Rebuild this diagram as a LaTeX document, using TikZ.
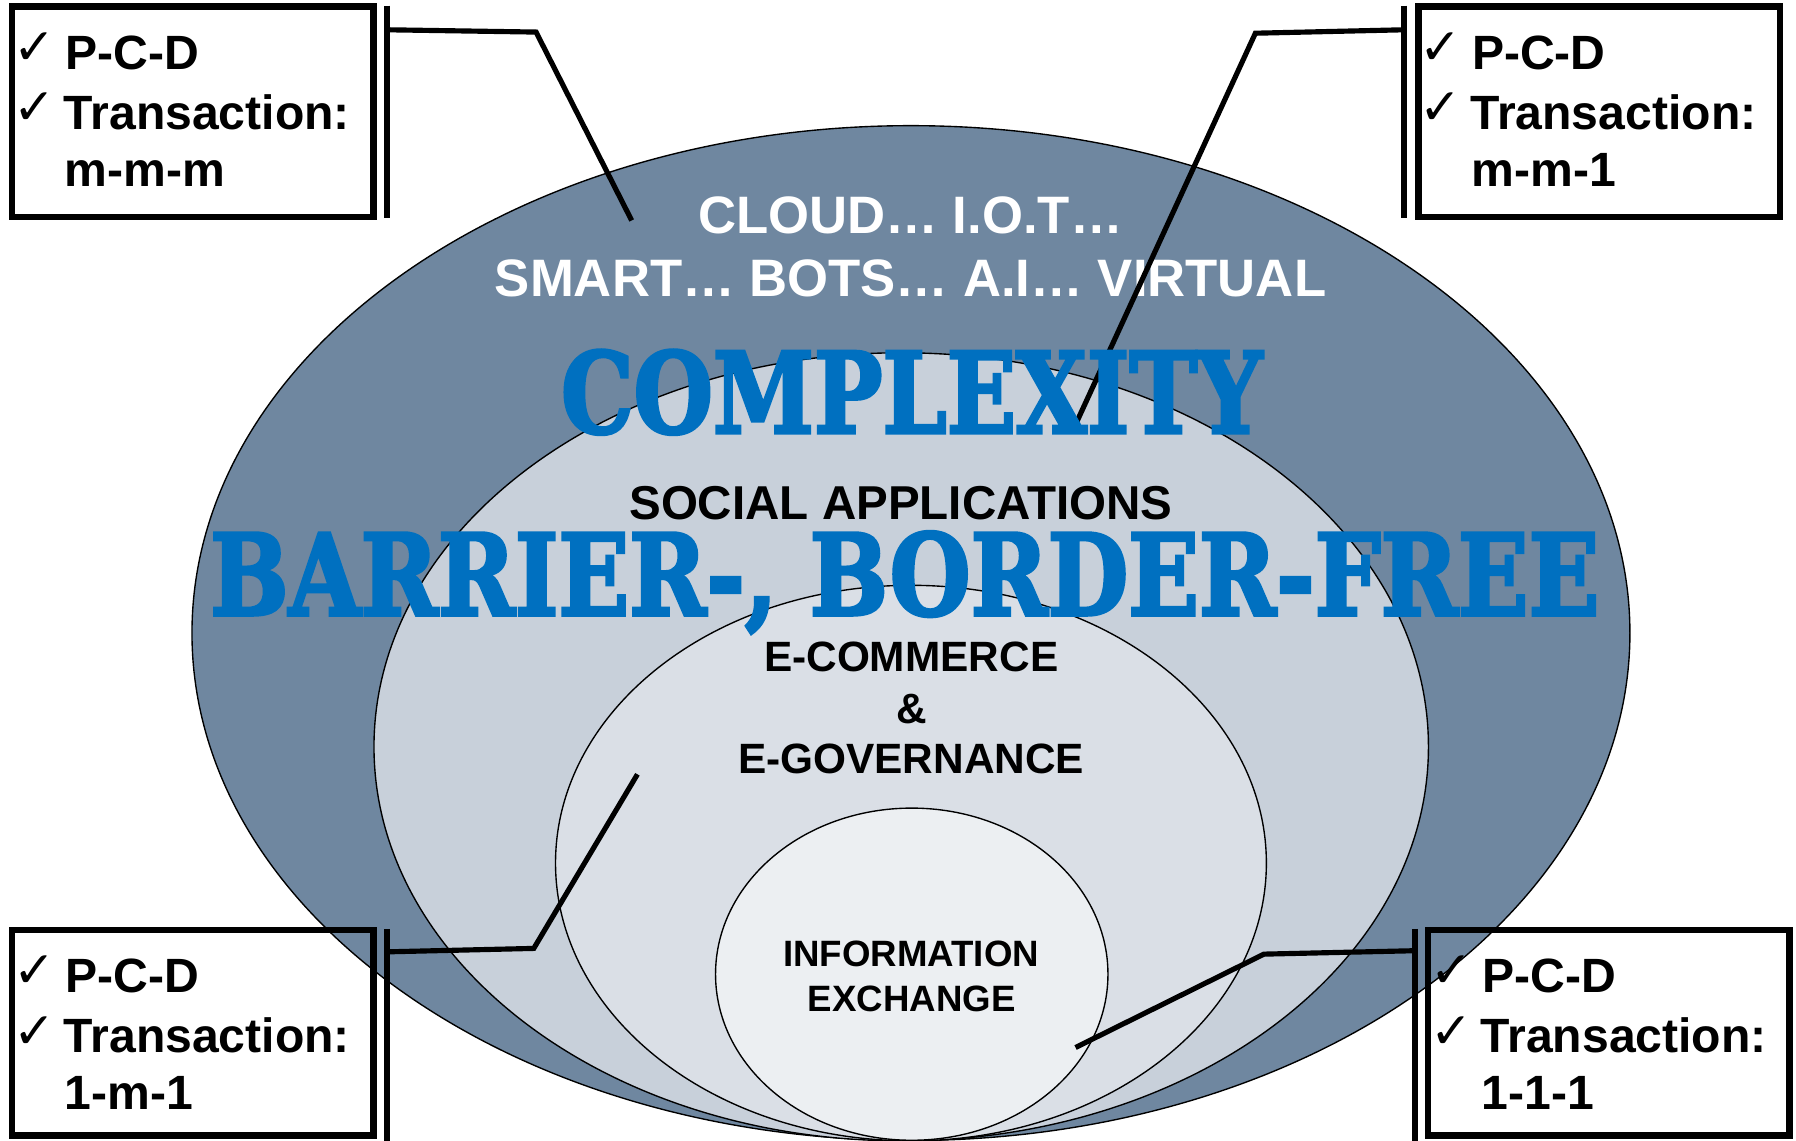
\documentclass[tikz,border=0pt]{standalone}
\usepackage{fontspec}
\setmainfont{Liberation Sans}
\newfontfamily\chkfont{DejaVu Sans}
\newfontfamily\stencilfont{DejaVu Serif Bold}[FakeBold=3]
\usetikzlibrary{shapes.geometric}
\definecolor{ringA}{RGB}{111,135,160}
\definecolor{ringB}{RGB}{200,208,218}
\definecolor{ringC}{RGB}{218,223,230}
\definecolor{ringD}{RGB}{236,239,242}
\definecolor{bigblue}{RGB}{0,112,192}
\begin{document}
\begin{tikzpicture}[x=1pt,y=-1pt,
  ring/.style={ellipse, draw=black, line width=1.2pt, inner sep=0pt},
  infobox/.style={draw=black, line width=5.5pt, inner sep=0pt, minimum width=315.5pt},
  boxtext/.style={anchor=base west, inner sep=0pt, font=\fontsize{42}{48}\selectfont\bfseries},
  tick/.style={anchor=base west, inner sep=0pt, font=\chkfont\fontsize{44}{48}\selectfont},
  barline/.style={line width=5pt},
  leader/.style={line width=4.5pt, line join=miter},
  wtext/.style={anchor=base, inner sep=0pt, text=white, font=\fontsize{46}{55}\selectfont\bfseries},
  btext/.style={anchor=base, inner sep=0pt, text=black, font=\fontsize{37}{44}\selectfont\bfseries},
  bigtext/.style={anchor=base, inner sep=0pt, text=bigblue, font=\stencilfont}
]
\useasboundingbox (0,0) rectangle (1568,996);

% rings
\node[ring, fill=ringA, minimum width=1255.4pt, minimum height=886pt] (ring1) at (795.3,552.7) {};
\node[ring, fill=ringB, minimum width=920.6pt, minimum height=688pt] (ring2) at (786.8,652) {};
\node[ring, fill=ringC, minimum width=620.6pt, minimum height=485pt] (ring3) at (795.3,753.5) {};
\node[ring, fill=ringD, minimum width=342.6pt, minimum height=290pt] (ring4) at (796,850.5) {};

% white text on outer ring
\node[wtext] (cloud) at (795,203.5) {CLOUD… I.O.T…};
\node[wtext] (smart) at (795,259) {SMART… BOTS… A.I… VIRTUAL};

% boxes
\node[infobox, minimum height=183.5pt] (boxTL) at (168.4,97.5) {};
\node[infobox, minimum height=183.5pt] (boxTR) at (1396.2,97.5) {};
\node[infobox, minimum height=179.5pt] (boxBL) at (168.4,901.5) {};
\node[infobox, minimum height=179.5pt] (boxBR) at (1404.5,901.5) {};

% bars beside the boxes
\coordinate (barTLtop) at (338,5);   \coordinate (barTLbot) at (338,190);
\coordinate (barTRtop) at (1226,5);  \coordinate (barTRbot) at (1226,190);
\coordinate (barBLtop) at (338,811); \coordinate (barBLbot) at (338,998);
\coordinate (barBRtop) at (1235.5,811); \coordinate (barBRbot) at (1235.5,998);
\draw[barline] (barTLtop) -- (barTLbot);
\draw[barline] (barTRtop) -- (barTRbot);
\draw[barline] (barBLtop) -- (barBLbot);
\draw[barline] (barBRtop) -- (barBRbot);

% leaders
\coordinate (tlA) at (338,26);    \coordinate (tlB) at (468,28);    \coordinate (tlC) at (551.5,192.5);
\coordinate (trA) at (1226,26);   \coordinate (trB) at (1096,29);   \coordinate (trC) at (937,375);
\coordinate (blA) at (338,831);   \coordinate (blB) at (466,828);   \coordinate (blC) at (556.5,676);
\coordinate (brA) at (1235.5,830);\coordinate (brB) at (1103.5,833);\coordinate (brC) at (939,914.5);
\draw[leader] (tlA) -- (tlB) -- (tlC);
\draw[leader] (trA) -- (trB) -- (trC);
\draw[leader] (blA) -- (blB) -- (blC);
\draw[leader] (brA) -- (brB) -- (brC);

% box texts
\node[tick] (tlk1) at (11.5,56.5) {✓};
\node[boxtext] (tlt1) at (57,60.5) {P-C-D};
\node[tick] (tlk2) at (11.5,109) {✓};
\node[boxtext] (tlt2) at (55.5,113) {Transaction:};
\node[boxtext] (tlt3) at (56.5,163) {m-m-m};

\node[tick] (trk1) at (1239,56.5) {✓};
\node[boxtext] (trt1) at (1285,60.5) {P-C-D};
\node[tick] (trk2) at (1239,109) {✓};
\node[boxtext] (trt2) at (1283.5,113) {Transaction:};
\node[boxtext] (trt3) at (1284.5,163) {m-m-1};

\node[tick] (blk1) at (11.5,862.5) {✓};
\node[boxtext] (blt1) at (57,866.5) {P-C-D};
\node[tick] (blk2) at (11.5,915) {✓};
\node[boxtext] (blt2) at (55.5,919) {Transaction:};
\node[boxtext] (blt3) at (56.5,969) {1-m-1};

\node[tick] (brk1) at (1248.5,862.5) {✓};
\node[boxtext] (brt1) at (1294,866.5) {P-C-D};
\node[tick] (brk2) at (1248.5,915) {✓};
\node[boxtext] (brt2) at (1292.5,919) {Transaction:};
\node[boxtext] (brt3) at (1293.5,969) {1-1-1};

% big blue texts
\node[bigtext] (complexity) at (796,378) {\resizebox{612pt}{72.5pt}{COMPLEXITY}};
\node[bigtext] (barrier) at (790,537) {\resizebox{1212pt}{73pt}{BARRIER-, BORDER-FREE}};

% black texts
\node[btext, font=\fontsize{41.5}{48}\selectfont\bfseries] (social) at (786.5,453.4) {SOCIAL APPLICATIONS};
\node[btext] (ecom) at (795.5,586.4) {E-COMMERCE};
\node[btext] (amp) at (796,631.5) {\&};
\node[btext] (egov) at (795.5,675) {E-GOVERNANCE};
\node[btext, font=\fontsize{32}{39}\selectfont\bfseries] (info) at (795.5,844) {INFORMATION};
\node[btext, font=\fontsize{32}{39}\selectfont\bfseries] (exch) at (796,883) {EXCHANGE};
\end{tikzpicture}
\end{document}
